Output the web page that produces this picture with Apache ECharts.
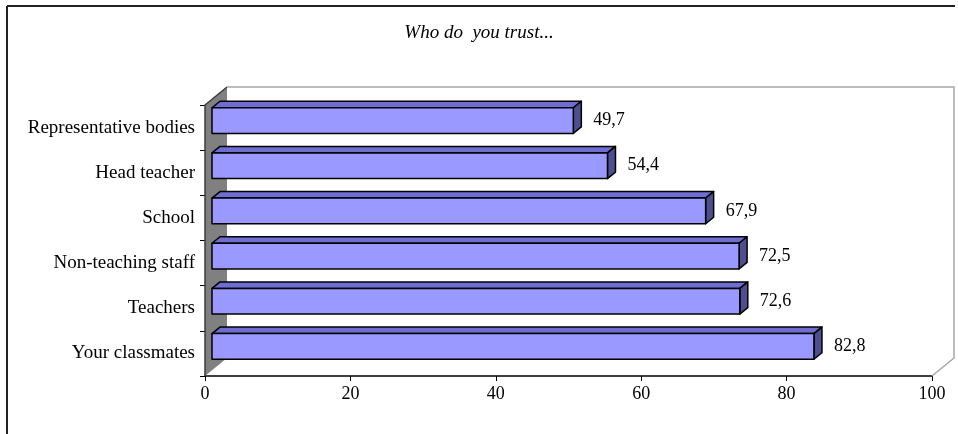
<!DOCTYPE html>
<html>
<head>
<meta charset="utf-8">
<script src="https://cdn.jsdelivr.net/npm/echarts@6/dist/echarts.min.js"></script>
<style>
html,body{margin:0;padding:0;background:#fff;}
#chart{width:958px;height:434px;}
</style>
</head>
<body>
<div id="chart"></div>
<script>
// Categories listed bottom-to-top (ECharts category axis order)
const categories = ['Your classmates', 'Teachers', 'Non-teaching staff', 'School', 'Head teacher', 'Representative bodies'];
const values = [82.8, 72.6, 72.5, 67.9, 54.4, 49.7];
const xMin = 0, xMax = 100, xInterval = 20;
const titleText = 'Who do  you trust...';

const FONT = '"Liberation Serif", "Times New Roman", serif';
// 3D style constants
const WALL_DX = 22, WALL_DY = -18;
const BAR_SHIFT = 7, BAR_DX = 8, BAR_DY = -6.5;
const FRONT = '#9999ff', TOP = '#6e6ed2', SIDE = '#4e4e90';

const chart = echarts.init(document.getElementById('chart'), null, {renderer: 'canvas'});

function fmt(v) { return v.toFixed(1).replace('.', ','); }

const option = {
  animation: false,
  backgroundColor: '#fff',
  title: {
    text: titleText,
    left: 'center',
    top: 18,
    textStyle: {fontFamily: FONT, fontStyle: 'italic', fontWeight: 'normal', fontSize: 19, color: '#000'}
  },
  graphic: [
    {type: 'line', shape: {x1: 7, y1: 6, x2: 955, y2: 6}, style: {stroke: '#222', lineWidth: 2}},
    {type: 'line', shape: {x1: 7, y1: 6, x2: 7, y2: 434}, style: {stroke: '#222', lineWidth: 2}}
  ],
  grid: {left: 205, right: 26, top: 105, bottom: 58},
  xAxis: {
    type: 'value', min: xMin, max: xMax, interval: xInterval,
    axisLine: {show: true, lineStyle: {color: '#000', width: 1.5}},
    axisTick: {show: true, length: 5, lineStyle: {color: '#000'}},
    axisLabel: {fontFamily: FONT, fontSize: 18, color: '#000', margin: 9},
    splitLine: {show: false}
  },
  yAxis: {
    type: 'category', data: categories,
    axisLine: {show: false},
    axisTick: {show: true, length: 5, lineStyle: {color: '#000'}},
    axisLabel: {fontFamily: FONT, fontSize: 19, color: '#000', margin: 10},
    splitLine: {show: false}
  },
  series: [
    {
      type: 'custom', z: 1, clip: false, silent: true,
      data: [[0, 0]],
      encode: {x: 0, y: 1},
      renderItem: function (params, api) {
        const cs = params.coordSys;
        const x = cs.x, y = cs.y, w = cs.width, h = cs.height;
        return {
          type: 'group',
          children: [
            {type: 'polygon', shape: {points: [[x, y + h], [x, y], [x + WALL_DX, y + WALL_DY], [x + WALL_DX, y + h + WALL_DY]]},
              style: {fill: '#808080', stroke: null}},
            {type: 'polyline', shape: {points: [[x, y + h], [x, y], [x + WALL_DX, y + WALL_DY]]},
              style: {stroke: '#3c3c3c', lineWidth: 1.5, fill: null}},
            {type: 'polyline', shape: {points: [[x + WALL_DX, y + WALL_DY], [x + w + WALL_DX, y + WALL_DY], [x + w + WALL_DX, y + h + WALL_DY], [x + w, y + h]]},
              style: {stroke: '#a6a6a6', lineWidth: 1.5, fill: null}}
          ]
        };
      }
    },
    {
      type: 'custom', z: 3, clip: false,
      data: values.map(function (v, i) { return [v, i]; }),
      encode: {x: 0, y: 1},
      renderItem: function (params, api) {
        const v = api.value(0), c = api.value(1);
        const p0 = api.coord([0, c]);
        const p1 = api.coord([v, c]);
        const band = api.size([0, 1])[1];
        const fh = band * 0.57;
        const cy = p0[1] - band * 0.155;
        const top = cy - fh / 2, bot = cy + fh / 2;
        const x0 = p0[0] + BAR_SHIFT, x1 = p1[0] + BAR_SHIFT;
        const line = {stroke: '#000', lineWidth: 1.5, lineJoin: 'round'};
        return {
          type: 'group',
          children: [
            {type: 'polygon', shape: {points: [[x0, top], [x0 + BAR_DX, top + BAR_DY], [x1 + BAR_DX, top + BAR_DY], [x1, top]]},
              style: Object.assign({fill: TOP}, line)},
            {type: 'polygon', shape: {points: [[x1, top], [x1 + BAR_DX, top + BAR_DY], [x1 + BAR_DX, bot + BAR_DY], [x1, bot]]},
              style: Object.assign({fill: SIDE}, line)},
            {type: 'rect', shape: {x: x0, y: top, width: x1 - x0, height: fh},
              style: Object.assign({fill: FRONT}, line)},
            {type: 'text', style: {text: fmt(v), x: x1 + BAR_DX + 12, y: cy, verticalAlign: 'middle', align: 'left',
              font: '18px ' + FONT, fill: '#000'}}
          ]
        };
      }
    }
  ]
};
chart.setOption(option);
</script>
</body>
</html>
